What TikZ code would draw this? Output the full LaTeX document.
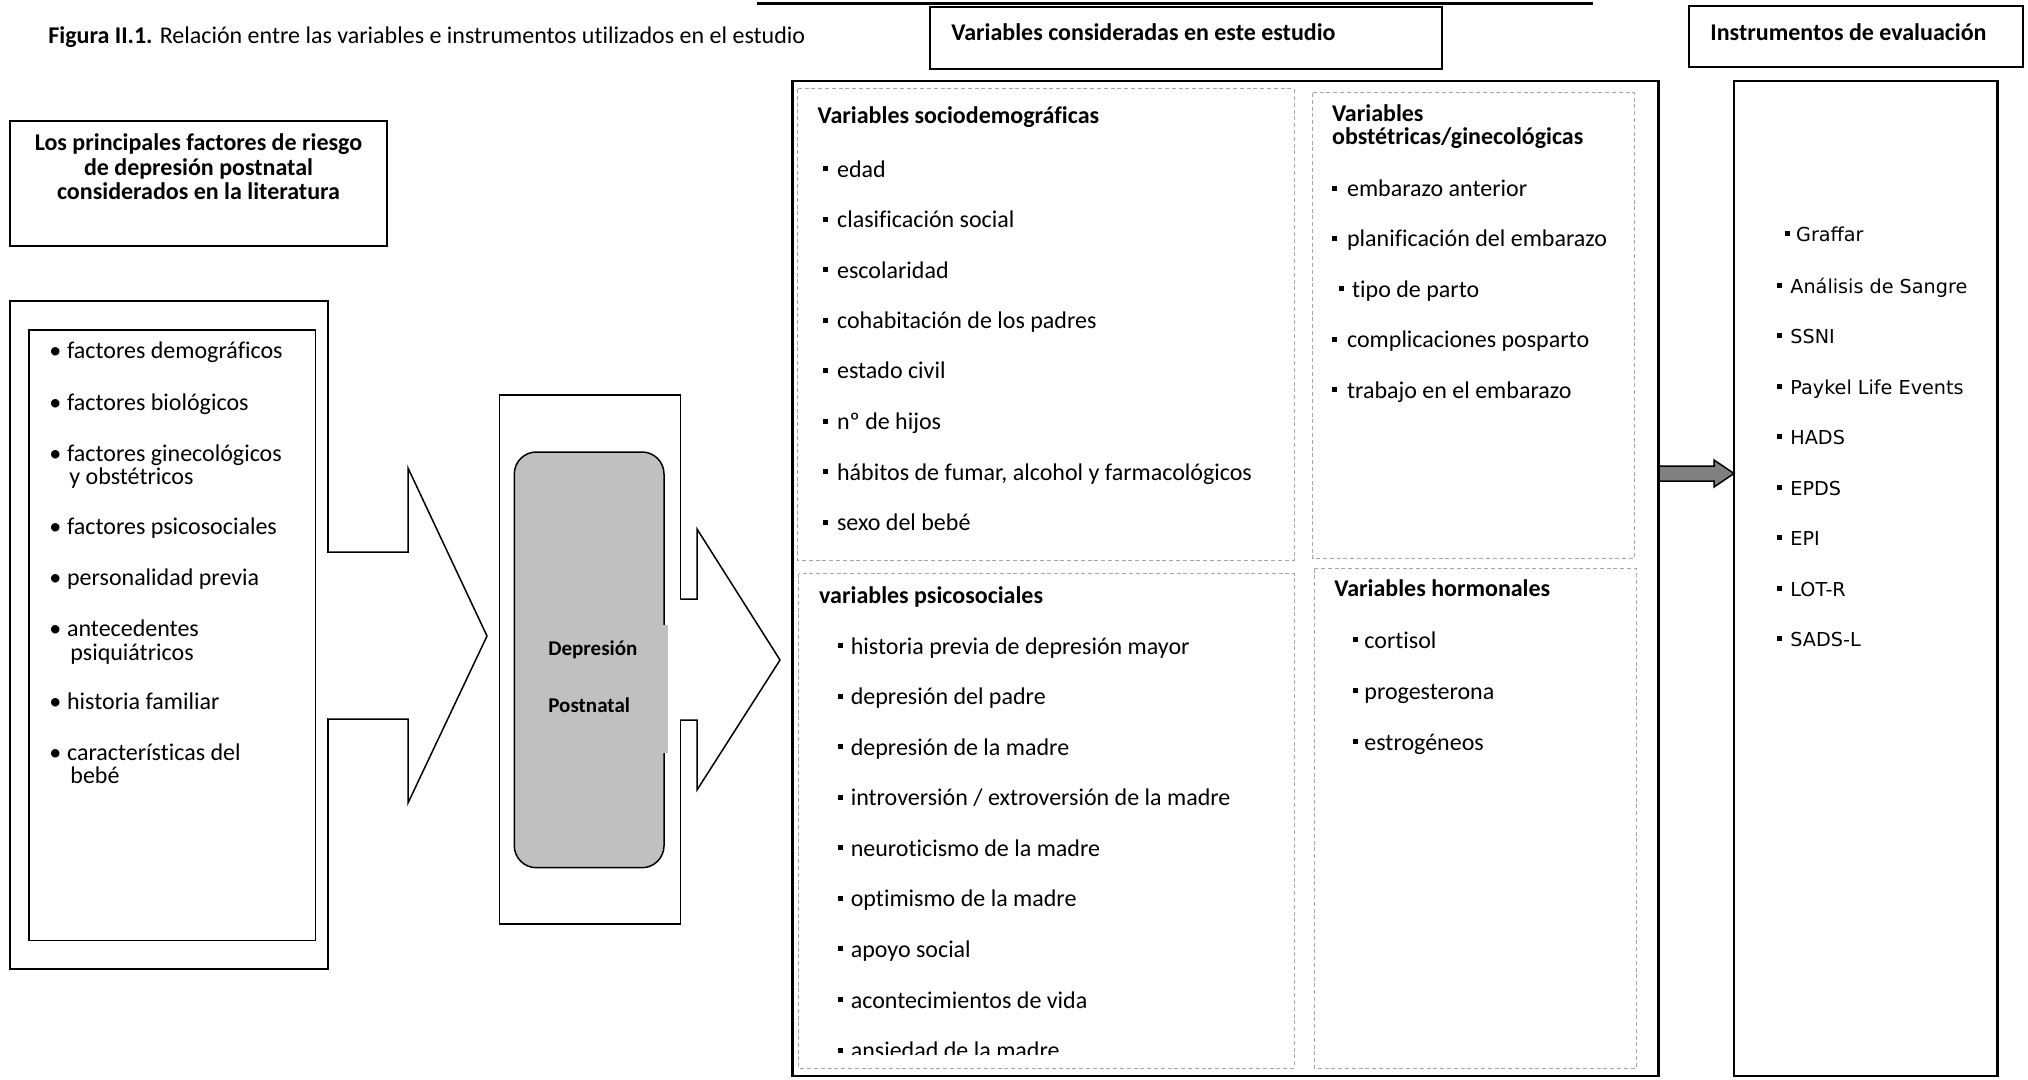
\documentclass[tikz,border=0pt]{standalone}
\usepackage{fontspec}
\setmainfont{Carlito}[Ligatures=NoCommon]
\newfontfamily\dvs{DejaVu Sans}
\definecolor{silverfill}{HTML}{C0C0C0}
\definecolor{arrowgray}{HTML}{808080}
\definecolor{dashgray}{HTML}{A6A6A6}
\tikzset{
  txt/.style={anchor=base west, inner sep=0pt, font=\fontsize{12}{14}\selectfont},
  btxt/.style={anchor=base west, inner sep=0pt, font=\fontsize{12}{14}\selectfont\bfseries},
  ctxt/.style={anchor=base, inner sep=0pt, font=\fontsize{12}{14}\selectfont\bfseries},
  itxt/.style={anchor=base west, inner sep=0pt, font=\fontsize{9.6}{11}\selectfont\dvs},
  dtxt/.style={anchor=base west, inner sep=0pt, font=\fontsize{10.5}{12}\selectfont\bfseries},
  thinbox/.style={draw=black, line width=0.75pt},
  hdrbox/.style={draw=black, line width=1pt},
  thickbox/.style={draw=black, line width=1.4pt},
  dashbox/.style={draw=dashgray, line width=0.5pt, dash pattern=on 2pt off 1.4pt},
  blockarrow/.style={draw=black, line width=0.75pt, fill=white},
}
\newcommand\sqitem[5]{\fill ({#2},{#4-11}) rectangle ++(5,5); \node[txt] (#1) at (#3,#4) {#5};}
\newcommand\institem[5]{\fill ({#2},{#4-10.5}) rectangle ++(5,5); \node[itxt] (#1) at (#3,#4) {#5};}
\begin{document}
\begin{tikzpicture}[x=0.5pt,y=-0.5pt]
\useasboundingbox (0,0) rectangle (2028,1080);
\fill[white] (0,0) rectangle (2028,1080);

% top rule
\coordinate (ruleA) at (757,3.5);
\coordinate (ruleB) at (1593,3.5);
\draw[line width=1.2pt] (ruleA) -- (ruleB);

% title
\node[txt] (title) at (48,44) {\textbf{Figura II.1.} Relación entre las variables e instrumentos utilizados en el estudio};

% header boxes
\draw[hdrbox] (930,7.5) rectangle (1442,69);
\node[btxt] (hdrV) at (951,41) {Variables consideradas en este estudio};
\draw[hdrbox] (1689,6) rectangle (2023,67.5);
\node[btxt] (hdrI) at (1710,41) {Instrumentos de evaluación};
\draw[hdrbox] (10,121) rectangle (387,246);
\node[ctxt] (hdrL1) at (198.5,151) {Los principales factores de riesgo};
\node[ctxt] (hdrL2) at (198.5,175.5) {de depresión postnatal};
\node[ctxt] (hdrL3) at (198.5,199.5) {considerados en la literatura};

% left boxes
\draw[thinbox] (10,301) rectangle (328,969);
\draw[thinbox] (29,330) rectangle (315.7,940.7);
\foreach \y/\nm in {359/l1,410/l2,461/l3,534/l4,585.5/l5,636.5/l6,709/l7,760/l8}
  \node[txt] (b\nm) at (49,\y) {•};
\node[txt] (l1) at (66.7,359) {factores demográficos};
\node[txt] (l2) at (66.7,410) {factores biológicos};
\node[txt] (l3) at (66.7,461) {factores ginecológicos};
\node[txt] (l3b) at (69,484.5) {y obstétricos};
\node[txt] (l4) at (66.7,534) {factores psicosociales};
\node[txt] (l5) at (66.7,585.5) {personalidad previa};
\node[txt] (l6) at (66.7,636.5) {antecedentes};
\node[txt] (l6b) at (70,660) {psiquiátricos};
\node[txt] (l7) at (66.7,709) {historia familiar};
\node[txt] (l8) at (66.7,760) {características del};
\node[txt] (l8b) at (70,783.5) {bebé};

% block arrow 1
\draw[blockarrow] (328,552) -- (408,552) -- (408,468) -- (487,636) -- (408,803) -- (408,719) -- (328,719);
\fill[white] (327,553) rectangle (329,718);

% depression block
\draw[thinbox] (499.3,395) rectangle (680.7,924);
\draw[thinbox, fill=silverfill, rounded corners=11pt] (514.3,452) rectangle (664,867.7);
\fill[silverfill] (540,625) rectangle (667.7,752.7);
\node[dtxt] (dep1) at (548,655) {Depresión};
\node[dtxt] (dep2) at (548,712) {Postnatal};

% block arrow 2
\draw[blockarrow] (680.7,599) -- (697,599) -- (697,529) -- (780,660) -- (697,790) -- (697,720) -- (680.7,720);
\fill[white] (679.5,600) rectangle (681.9,719);

% study variables box
\draw[thickbox] (792.7,81) rectangle (1658.3,1076);
\draw[dashbox] (797,89) rectangle (1294,560);
\draw[dashbox] (1312.5,93) rectangle (1634.5,558.5);
\draw[dashbox] (798.5,573.5) rectangle (1294,1068);
\draw[dashbox] (1314,568.5) rectangle (1636,1068);

% sociodemographic
\node[btxt] (sdh) at (817.3,124) {Variables sociodemográficas};
\sqitem{sd1}{823.3}{836.7}{177.5}{edad}
\sqitem{sd2}{823.3}{836.7}{228}{clasificación social}
\sqitem{sd3}{823.3}{836.7}{278.3}{escolaridad}
\sqitem{sd4}{823.3}{836.7}{328.6}{cohabitación de los padres}
\sqitem{sd5}{823.3}{836.7}{379}{estado civil}
\sqitem{sd6}{823.3}{836.7}{429.5}{nº de hijos}
\sqitem{sd7}{823.3}{836.7}{480}{hábitos de fumar, alcohol y farmacológicos}
\sqitem{sd8}{823.3}{836.7}{530.5}{sexo del bebé}

% obstetric
\node[btxt] (obh1) at (1331.7,121.7) {Variables};
\node[btxt] (obh2) at (1331.7,144.5) {obstétricas/ginecológicas};
\sqitem{ob1}{1331.7}{1346.7}{196.7}{embarazo anterior}
\sqitem{ob2}{1331.7}{1346.7}{246.7}{planificación del embarazo}
\sqitem{ob3}{1339}{1351.7}{297.2}{tipo de parto}
\sqitem{ob4}{1331.7}{1346.7}{347.8}{complicaciones posparto}
\sqitem{ob5}{1331.7}{1346.7}{398.3}{trabajo en el embarazo}

% psychosocial
\node[btxt] (psh) at (818.8,603.3) {variables psicosociales};
\sqitem{ps1}{837.7}{850.4}{654}{historia previa de depresión mayor}
\sqitem{ps2}{837.7}{850.4}{704.5}{depresión del padre}
\sqitem{ps3}{837.7}{850.4}{755}{depresión de la madre}
\sqitem{ps4}{837.7}{850.4}{805.5}{introversión / extroversión de la madre}
\sqitem{ps5}{837.7}{850.4}{856}{neuroticismo de la madre}
\sqitem{ps6}{837.7}{850.4}{906.7}{optimismo de la madre}
\sqitem{ps7}{837.7}{850.4}{957.3}{apoyo social}
\sqitem{ps8}{837.7}{850.4}{1008}{acontecimientos de vida}
\begin{scope}
\clip (800,1020) rectangle (1290,1054);
\sqitem{ps9}{837.7}{850.4}{1058.5}{ansiedad de la madre}
\end{scope}

% hormonal
\node[btxt] (hoh) at (1334,596.7) {Variables hormonales};
\sqitem{ho1}{1352.7}{1364}{648.3}{cortisol}
\sqitem{ho2}{1352.7}{1364}{699.3}{progesterona}
\sqitem{ho3}{1352.7}{1364}{750}{estrogéneos}

% instruments box
\draw[thickbox] (1734,81) rectangle (1997.7,1076);
\coordinate (bigE) at (1659,473.5);
\coordinate (instW) at (1734,473.5);
\draw[line width=0.75pt, fill=arrowgray] (bigE) ++(0,-7.5) -- ++(55,0) -- ++(0,-6) -- (instW) -- ++(-20,13.5) -- ++(0,-6) -- ++(-55,0) -- cycle;

\institem{in1}{1785}{1795.7}{242}{Graffar}
\institem{in2}{1776.7}{1790}{293.5}{Análisis de Sangre}
\institem{in3}{1776.7}{1790}{343.8}{SSNI}
\institem{in4}{1776.7}{1790}{394.4}{Paykel Life Events}
\institem{in5}{1776.7}{1790}{444.8}{HADS}
\institem{in6}{1776.7}{1790}{495.2}{EPDS}
\institem{in7}{1776.7}{1790}{545.6}{EPI}
\institem{in8}{1776.7}{1790}{596}{LOT-R}
\institem{in9}{1776.7}{1790}{646.4}{SADS-L}
\end{tikzpicture}
\end{document}
